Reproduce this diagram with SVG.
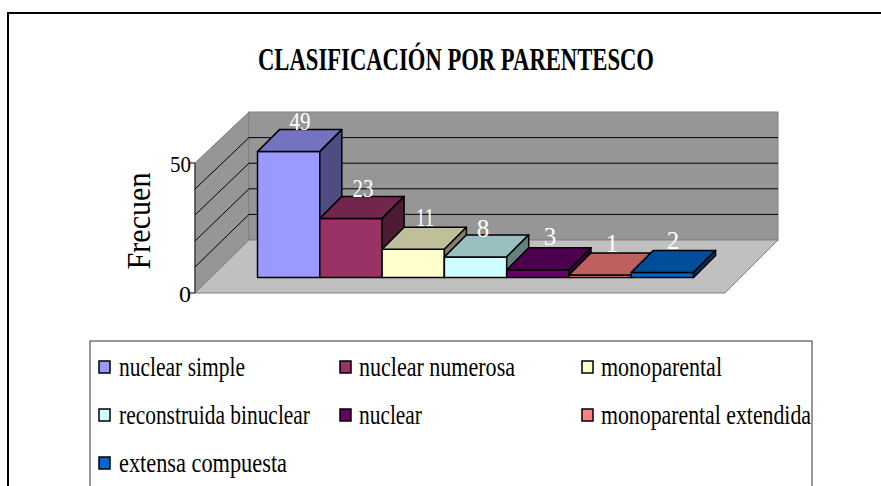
<svg xmlns="http://www.w3.org/2000/svg" width="881" height="486" viewBox="0 0 881 486">
<style>
.wall{fill:#969696;stroke:#808080;stroke-width:1}
.floor{fill:#C0C0C0;stroke:#808080;stroke-width:1}
.grid{stroke:#000;stroke-width:1;fill:none}
.bar{stroke:#000;stroke-width:1.5;stroke-linejoin:round}
.val{fill:#fff;text-anchor:middle}
.sw{stroke:#000;stroke-width:1.5}
</style>
<rect x="0" y="0" width="881" height="486" fill="#fff"/>
<path d="M8,486 V13 H881" fill="none" stroke="#000" stroke-width="2"/>
<g id="title">
<text x="456" y="70" font-family="'Liberation Serif','Times New Roman',serif" font-size="31" font-weight="bold" text-anchor="middle" textLength="396" lengthAdjust="spacingAndGlyphs">CLASIFICACIÓN POR PARENTESCO</text>
</g>
<g id="plot-area">
<polygon class="wall" points="195,163 249,112 249,240 195,293"/>
<rect class="wall" x="249" y="112" width="529" height="128"/>
<polygon class="floor" points="195,293 725,293 778,240 249,240"/>
<line x1="195" y1="163" x2="195" y2="293" stroke="#333" stroke-width="1.2"/>
<g class="grid">
<line x1="195" y1="267" x2="249" y2="214.4"/>
<line x1="195" y1="241" x2="249" y2="188.8"/>
<line x1="195" y1="215" x2="249" y2="163.2"/>
<line x1="195" y1="189" x2="249" y2="137.6"/>
<line x1="249" y1="214.4" x2="778" y2="214.4"/>
<line x1="249" y1="188.8" x2="778" y2="188.8"/>
<line x1="249" y1="163.2" x2="778" y2="163.2"/>
<line x1="249" y1="137.6" x2="778" y2="137.6"/>
<line x1="190" y1="163" x2="195" y2="163"/>
<line x1="190" y1="293" x2="195" y2="293"/>
</g>
<g font-family="'Liberation Serif','Times New Roman',serif" font-size="24" text-anchor="end">
<text x="191" y="172" textLength="21" lengthAdjust="spacingAndGlyphs">50</text>
<text x="191" y="302">0</text>
</g>
<text transform="translate(150,221) rotate(-90)" font-family="'Liberation Serif','Times New Roman',serif" font-size="34" text-anchor="middle" textLength="97" lengthAdjust="spacingAndGlyphs">Frecuen</text>
</g>
<g font-family="'Liberation Serif','Times New Roman',serif" font-size="25">
<g id="bar-nuclear-simple">
<rect class="bar" x="257.5" y="151.6" width="62.3" height="125.9" fill="#9999FF"/>
<polygon class="bar" points="257.5,151.6 319.8,151.6 341.8,129.6 279.5,129.6" fill="#7373BF"/>
<polygon class="bar" points="319.8,151.6 341.8,129.6 341.8,255.5 319.8,277.5" fill="#4D4D80"/>
<text class="val" x="300" y="130" textLength="21" lengthAdjust="spacingAndGlyphs">49</text>
</g>
<g id="bar-nuclear-numerosa">
<rect class="bar" x="319.8" y="218.4" width="62.3" height="59.1" fill="#993366"/>
<polygon class="bar" points="319.8,218.4 382.1,218.4 404.1,196.4 341.8,196.4" fill="#73264D"/>
<polygon class="bar" points="382.1,218.4 404.1,196.4 404.1,255.5 382.1,277.5" fill="#4D1A33"/>
<text class="val" x="363" y="197" textLength="21" lengthAdjust="spacingAndGlyphs">23</text>
</g>
<g id="bar-monoparental">
<rect class="bar" x="382.1" y="249.2" width="62.3" height="28.3" fill="#FFFFCC"/>
<polygon class="bar" points="382.1,249.2 444.4,249.2 466.4,227.2 404.1,227.2" fill="#BFBF99"/>
<polygon class="bar" points="444.4,249.2 466.4,227.2 466.4,255.5 444.4,277.5" fill="#808066"/>
<text class="val" x="425" y="226" textLength="18" lengthAdjust="spacingAndGlyphs">11</text>
</g>
<g id="bar-reconstruida-binuclear">
<rect class="bar" x="444.4" y="256.9" width="62.3" height="20.6" fill="#CCFFFF"/>
<polygon class="bar" points="444.4,256.9 506.7,256.9 528.7,234.9 466.4,234.9" fill="#99BFBF"/>
<polygon class="bar" points="506.7,256.9 528.7,234.9 528.7,255.5 506.7,277.5" fill="#668080"/>
<text class="val" x="483" y="237">8</text>
</g>
<g id="bar-nuclear">
<rect class="bar" x="506.7" y="269.8" width="62.3" height="7.7" fill="#660066"/>
<polygon class="bar" points="506.7,269.8 569,269.8 591,247.8 528.7,247.8" fill="#4D004D"/>
<polygon class="bar" points="569,269.8 591,247.8 591,255.5 569,277.5" fill="#330033"/>
<text class="val" x="550" y="245">3</text>
</g>
<g id="bar-monoparental-extendida">
<rect class="bar" x="569" y="274.9" width="62.3" height="2.6" fill="#FF8080"/>
<polygon class="bar" points="569,274.9 631.3,274.9 653.3,252.9 591,252.9" fill="#BF6060"/>
<polygon class="bar" points="631.3,274.9 653.3,252.9 653.3,255.5 631.3,277.5" fill="#804040"/>
<text class="val" x="612" y="252">1</text>
</g>
<g id="bar-extensa-compuesta">
<rect class="bar" x="631.3" y="272.4" width="62.3" height="5.1" fill="#0066CC"/>
<polygon class="bar" points="631.3,272.4 693.6,272.4 715.6,250.4 653.3,250.4" fill="#004D99"/>
<polygon class="bar" points="693.6,272.4 715.6,250.4 715.6,255.5 693.6,277.5" fill="#003366"/>
<text class="val" x="673" y="249">2</text>
</g>
</g>
<g id="legend">
<rect x="90" y="341" width="722" height="160" fill="#fff" stroke="#333" stroke-width="1"/>
<rect class="sw" x="99" y="361" width="11" height="12" fill="#9999FF"/>
<rect class="sw" x="340" y="361" width="11" height="12" fill="#993366"/>
<rect class="sw" x="582" y="361" width="11" height="12" fill="#FFFFCC"/>
<rect class="sw" x="99" y="409" width="11" height="12" fill="#CCFFFF"/>
<rect class="sw" x="340" y="409" width="11" height="12" fill="#660066"/>
<rect class="sw" x="582" y="409" width="11" height="12" fill="#FF8080"/>
<rect class="sw" x="99" y="457" width="11" height="12" fill="#0066CC"/>
<g font-family="'Liberation Serif','Times New Roman',serif" font-size="27" fill="#000">
<text x="119" y="376" textLength="126" lengthAdjust="spacingAndGlyphs">nuclear simple</text>
<text x="359" y="376" textLength="156" lengthAdjust="spacingAndGlyphs">nuclear numerosa</text>
<text x="601" y="376" textLength="121" lengthAdjust="spacingAndGlyphs">monoparental</text>
<text x="119" y="424" textLength="191" lengthAdjust="spacingAndGlyphs">reconstruida binuclear</text>
<text x="359" y="424" textLength="63" lengthAdjust="spacingAndGlyphs">nuclear</text>
<text x="601" y="424" textLength="210" lengthAdjust="spacingAndGlyphs">monoparental extendida</text>
<text x="119" y="472" textLength="168" lengthAdjust="spacingAndGlyphs">extensa compuesta</text>
</g>
</g>
</svg>
